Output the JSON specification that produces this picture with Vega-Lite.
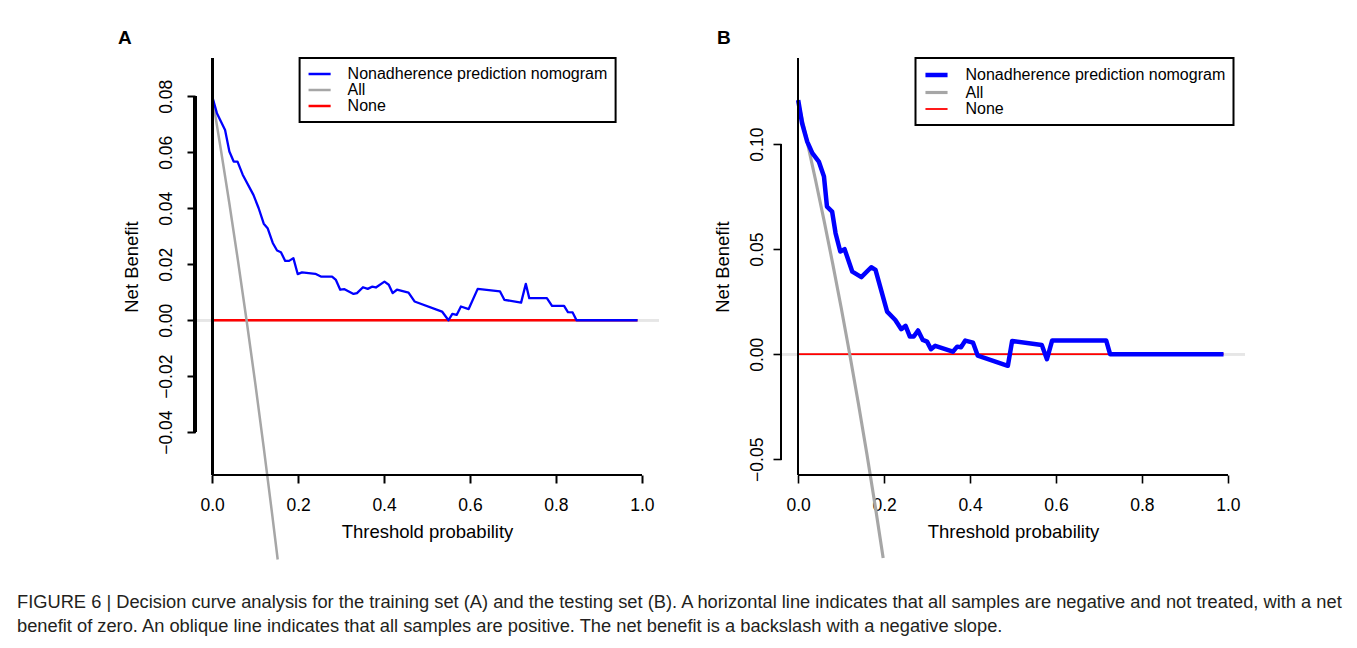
{
  "$schema": "https://vega.github.io/schema/vega-lite/v6.json",
  "background": "white",
  "padding": {"left": 17, "top": 28, "right": 5, "bottom": 5},
  "datasets": {
    "a": [
      {"curve": "Nonadherence prediction nomogram", "t": 0, "nb": 0.080},
      {"curve": "Nonadherence prediction nomogram", "t": 0.011, "nb": 0.074},
      {"curve": "Nonadherence prediction nomogram", "t": 0.030, "nb": 0.068},
      {"curve": "Nonadherence prediction nomogram", "t": 0.040, "nb": 0.0603},
      {"curve": "Nonadherence prediction nomogram", "t": 0.050, "nb": 0.0567},
      {"curve": "Nonadherence prediction nomogram", "t": 0.059, "nb": 0.0567},
      {"curve": "Nonadherence prediction nomogram", "t": 0.071, "nb": 0.052},
      {"curve": "Nonadherence prediction nomogram", "t": 0.096, "nb": 0.0448},
      {"curve": "Nonadherence prediction nomogram", "t": 0.108, "nb": 0.0401},
      {"curve": "Nonadherence prediction nomogram", "t": 0.120, "nb": 0.0345},
      {"curve": "Nonadherence prediction nomogram", "t": 0.129, "nb": 0.0329},
      {"curve": "Nonadherence prediction nomogram", "t": 0.141, "nb": 0.0276},
      {"curve": "Nonadherence prediction nomogram", "t": 0.151, "nb": 0.0249},
      {"curve": "Nonadherence prediction nomogram", "t": 0.160, "nb": 0.0243},
      {"curve": "Nonadherence prediction nomogram", "t": 0.170, "nb": 0.0212},
      {"curve": "Nonadherence prediction nomogram", "t": 0.179, "nb": 0.0212},
      {"curve": "Nonadherence prediction nomogram", "t": 0.189, "nb": 0.0222},
      {"curve": "Nonadherence prediction nomogram", "t": 0.199, "nb": 0.0165},
      {"curve": "Nonadherence prediction nomogram", "t": 0.209, "nb": 0.0171},
      {"curve": "Nonadherence prediction nomogram", "t": 0.240, "nb": 0.0166},
      {"curve": "Nonadherence prediction nomogram", "t": 0.253, "nb": 0.0156},
      {"curve": "Nonadherence prediction nomogram", "t": 0.279, "nb": 0.0156},
      {"curve": "Nonadherence prediction nomogram", "t": 0.288, "nb": 0.0144},
      {"curve": "Nonadherence prediction nomogram", "t": 0.298, "nb": 0.0109},
      {"curve": "Nonadherence prediction nomogram", "t": 0.308, "nb": 0.0111},
      {"curve": "Nonadherence prediction nomogram", "t": 0.329, "nb": 0.0094},
      {"curve": "Nonadherence prediction nomogram", "t": 0.337, "nb": 0.0097},
      {"curve": "Nonadherence prediction nomogram", "t": 0.351, "nb": 0.0118},
      {"curve": "Nonadherence prediction nomogram", "t": 0.362, "nb": 0.0112},
      {"curve": "Nonadherence prediction nomogram", "t": 0.372, "nb": 0.0120},
      {"curve": "Nonadherence prediction nomogram", "t": 0.381, "nb": 0.0117},
      {"curve": "Nonadherence prediction nomogram", "t": 0.401, "nb": 0.0138},
      {"curve": "Nonadherence prediction nomogram", "t": 0.411, "nb": 0.0127},
      {"curve": "Nonadherence prediction nomogram", "t": 0.420, "nb": 0.0097},
      {"curve": "Nonadherence prediction nomogram", "t": 0.430, "nb": 0.0109},
      {"curve": "Nonadherence prediction nomogram", "t": 0.457, "nb": 0.0099},
      {"curve": "Nonadherence prediction nomogram", "t": 0.471, "nb": 0.0067},
      {"curve": "Nonadherence prediction nomogram", "t": 0.535, "nb": 0.0031},
      {"curve": "Nonadherence prediction nomogram", "t": 0.550, "nb": 0.0},
      {"curve": "Nonadherence prediction nomogram", "t": 0.559, "nb": 0.0023},
      {"curve": "Nonadherence prediction nomogram", "t": 0.569, "nb": 0.0019},
      {"curve": "Nonadherence prediction nomogram", "t": 0.579, "nb": 0.0049},
      {"curve": "Nonadherence prediction nomogram", "t": 0.597, "nb": 0.0040},
      {"curve": "Nonadherence prediction nomogram", "t": 0.618, "nb": 0.0112},
      {"curve": "Nonadherence prediction nomogram", "t": 0.670, "nb": 0.0103},
      {"curve": "Nonadherence prediction nomogram", "t": 0.680, "nb": 0.0073},
      {"curve": "Nonadherence prediction nomogram", "t": 0.719, "nb": 0.0063},
      {"curve": "Nonadherence prediction nomogram", "t": 0.730, "nb": 0.0130},
      {"curve": "Nonadherence prediction nomogram", "t": 0.738, "nb": 0.0079},
      {"curve": "Nonadherence prediction nomogram", "t": 0.779, "nb": 0.0079},
      {"curve": "Nonadherence prediction nomogram", "t": 0.791, "nb": 0.0051},
      {"curve": "Nonadherence prediction nomogram", "t": 0.819, "nb": 0.0051},
      {"curve": "Nonadherence prediction nomogram", "t": 0.828, "nb": 0.0029},
      {"curve": "Nonadherence prediction nomogram", "t": 0.839, "nb": 0.0028},
      {"curve": "Nonadherence prediction nomogram", "t": 0.848, "nb": 0.0},
      {"curve": "Nonadherence prediction nomogram", "t": 0.99, "nb": 0.0},
      {"curve": "All", "t": 0, "nb": 0.08},
      {"curve": "All", "t": 0.02, "nb": 0.0612},
      {"curve": "All", "t": 0.04, "nb": 0.0417},
      {"curve": "All", "t": 0.06, "nb": 0.0213},
      {"curve": "All", "t": 0.08, "nb": 0.0},
      {"curve": "All", "t": 0.10, "nb": -0.0222},
      {"curve": "All", "t": 0.12, "nb": -0.0455},
      {"curve": "All", "t": 0.14, "nb": -0.0698},
      {"curve": "All", "t": 0.1525, "nb": -0.0855},
      {"curve": "None", "t": 0, "nb": 0},
      {"curve": "None", "t": 0.99, "nb": 0}
    ],
    "b": [
      {"curve": "Nonadherence prediction nomogram", "t": 0, "nb": 0.121},
      {"curve": "Nonadherence prediction nomogram", "t": 0.009, "nb": 0.110},
      {"curve": "Nonadherence prediction nomogram", "t": 0.021, "nb": 0.1012},
      {"curve": "Nonadherence prediction nomogram", "t": 0.033, "nb": 0.0957},
      {"curve": "Nonadherence prediction nomogram", "t": 0.048, "nb": 0.0917},
      {"curve": "Nonadherence prediction nomogram", "t": 0.060, "nb": 0.0846},
      {"curve": "Nonadherence prediction nomogram", "t": 0.067, "nb": 0.0703},
      {"curve": "Nonadherence prediction nomogram", "t": 0.079, "nb": 0.0679},
      {"curve": "Nonadherence prediction nomogram", "t": 0.087, "nb": 0.0576},
      {"curve": "Nonadherence prediction nomogram", "t": 0.098, "nb": 0.0489},
      {"curve": "Nonadherence prediction nomogram", "t": 0.108, "nb": 0.050},
      {"curve": "Nonadherence prediction nomogram", "t": 0.126, "nb": 0.0393},
      {"curve": "Nonadherence prediction nomogram", "t": 0.147, "nb": 0.0367},
      {"curve": "Nonadherence prediction nomogram", "t": 0.170, "nb": 0.0414},
      {"curve": "Nonadherence prediction nomogram", "t": 0.180, "nb": 0.0401},
      {"curve": "Nonadherence prediction nomogram", "t": 0.207, "nb": 0.0203},
      {"curve": "Nonadherence prediction nomogram", "t": 0.226, "nb": 0.0163},
      {"curve": "Nonadherence prediction nomogram", "t": 0.240, "nb": 0.0119},
      {"curve": "Nonadherence prediction nomogram", "t": 0.250, "nb": 0.0135},
      {"curve": "Nonadherence prediction nomogram", "t": 0.260, "nb": 0.0084},
      {"curve": "Nonadherence prediction nomogram", "t": 0.269, "nb": 0.0084},
      {"curve": "Nonadherence prediction nomogram", "t": 0.279, "nb": 0.0113},
      {"curve": "Nonadherence prediction nomogram", "t": 0.290, "nb": 0.0068},
      {"curve": "Nonadherence prediction nomogram", "t": 0.300, "nb": 0.0060},
      {"curve": "Nonadherence prediction nomogram", "t": 0.309, "nb": 0.0024},
      {"curve": "Nonadherence prediction nomogram", "t": 0.319, "nb": 0.0040},
      {"curve": "Nonadherence prediction nomogram", "t": 0.360, "nb": 0.0012},
      {"curve": "Nonadherence prediction nomogram", "t": 0.370, "nb": 0.0036},
      {"curve": "Nonadherence prediction nomogram", "t": 0.379, "nb": 0.0033},
      {"curve": "Nonadherence prediction nomogram", "t": 0.389, "nb": 0.0065},
      {"curve": "Nonadherence prediction nomogram", "t": 0.407, "nb": 0.0055},
      {"curve": "Nonadherence prediction nomogram", "t": 0.418, "nb": -0.0007},
      {"curve": "Nonadherence prediction nomogram", "t": 0.488, "nb": -0.0055},
      {"curve": "Nonadherence prediction nomogram", "t": 0.498, "nb": 0.0063},
      {"curve": "Nonadherence prediction nomogram", "t": 0.567, "nb": 0.0044},
      {"curve": "Nonadherence prediction nomogram", "t": 0.579, "nb": -0.0024},
      {"curve": "Nonadherence prediction nomogram", "t": 0.591, "nb": 0.0065},
      {"curve": "Nonadherence prediction nomogram", "t": 0.717, "nb": 0.0065},
      {"curve": "Nonadherence prediction nomogram", "t": 0.726, "nb": 0.0},
      {"curve": "Nonadherence prediction nomogram", "t": 0.99, "nb": 0.0},
      {"curve": "All", "t": 0, "nb": 0.12},
      {"curve": "All", "t": 0.02, "nb": 0.1020},
      {"curve": "All", "t": 0.04, "nb": 0.0833},
      {"curve": "All", "t": 0.06, "nb": 0.0638},
      {"curve": "All", "t": 0.08, "nb": 0.0435},
      {"curve": "All", "t": 0.10, "nb": 0.0222},
      {"curve": "All", "t": 0.12, "nb": 0.0},
      {"curve": "All", "t": 0.14, "nb": -0.0233},
      {"curve": "All", "t": 0.16, "nb": -0.0476},
      {"curve": "All", "t": 0.18, "nb": -0.0732},
      {"curve": "All", "t": 0.1978, "nb": -0.097},
      {"curve": "None", "t": 0, "nb": 0},
      {"curve": "None", "t": 0.99, "nb": 0}
    ]
  },
  "title": {
    "text": [
      "FIGURE 6 | Decision curve analysis for the training set (A) and the testing set (B). A horizontal line indicates that all samples are negative and not treated, with a net",
      "benefit of zero. An oblique line indicates that all samples are positive. The net benefit is a backslash with a negative slope."
    ],
    "orient": "bottom",
    "anchor": "start",
    "frame": "bounds",
    "dx": -101,
    "offset": 29,
    "font": "Liberation Sans",
    "fontSize": 18.3,
    "fontWeight": "normal",
    "color": "#231f20",
    "lineHeight": 24
  },
  "config": {
    "font": "Liberation Sans",
    "view": {"stroke": null},
    "axis": {
      "grid": false,
      "domain": false,
      "tickColor": "black",
      "tickWidth": 2,
      "tickSize": 8,
      "labelFont": "Liberation Sans",
      "labelFontSize": 17.5,
      "labelColor": "black",
      "titleFont": "Liberation Sans",
      "titleFontSize": 18.5,
      "titleFontWeight": "normal",
      "titleColor": "black"
    },
    "legend": {
      "title": null,
      "orient": "none",
      "strokeColor": "black",
      "strokeWidth": 2,
      "fillColor": "white",
      "padding": 8,
      "labelFont": "Liberation Sans",
      "labelFontSize": 16,
      "labelColor": "black",
      "labelLimit": 400,
      "labelOffset": 20,
      "symbolType": "M-1.7,0H1.7",
      "symbolSize": 169,
      "symbolOffset": 4,
      "symbolStrokeWidth": 2.5,
      "rowPadding": 0
    }
  },
  "vconcat": [
    {
      "resolve": {
        "scale": {"color": "independent", "strokeWidth": "independent"},
        "legend": {"color": "independent", "strokeWidth": "independent"}
      },
      "hconcat": [
        {
          "width": 464,
          "height": 417,
          "title": {"text": "A", "anchor": "start", "frame": "bounds", "dx": -4, "fontSize": 19, "fontWeight": "bold", "font": "Liberation Sans", "color": "black", "offset": 9.3},
          "data": {"name": "a"},
          "layer": [
            {
              "mark": {"type": "rule", "color": "#e6e6e6", "strokeWidth": 2},
              "encoding": {
                "x": {"datum": -0.04, "type": "quantitative", "scale": {"domain": [-0.04, 1.04], "nice": false, "zero": false}},
                "x2": {"datum": 1.04},
                "y": {"datum": 0, "type": "quantitative", "scale": {"domain": [-0.0553, 0.0937], "nice": false, "zero": false}}
              }
            },
            {
              "transform": [{"filter": "datum.curve === 'None'"}],
              "mark": {"type": "line", "strokeWidth": 2.5},
              "encoding": {
                "x": {"field": "t", "type": "quantitative", "scale": {"domain": [-0.04, 1.04], "nice": false, "zero": false},
                  "axis": {"title": "Threshold probability", "values": [0, 0.2, 0.4, 0.6, 0.8, 1.0], "format": ".1f", "labelPadding": 13, "titlePadding": 9}},
                "y": {"field": "nb", "type": "quantitative", "scale": {"domain": [-0.0553, 0.0937], "nice": false, "zero": false},
                  "axis": {"title": "Net Benefit", "values": [-0.04, -0.02, 0, 0.02, 0.04, 0.06, 0.08], "format": ".2f", "labelAngle": -90, "labelAlign": "center", "labelBaseline": "bottom", "labelPadding": 12, "titlePadding": 16}},
                "color": {"field": "curve", "type": "nominal",
                  "scale": {"domain": ["Nonadherence prediction nomogram", "All", "None"], "range": ["#0000ff", "#a6a6a6", "#ff0000"]},
                  "legend": {"legendX": 104.6, "legendY": 0}}
              }
            },
            {
              "transform": [{"filter": "datum.curve === 'All'"}],
              "mark": {"type": "line", "strokeWidth": 2.5},
              "encoding": {
                "x": {"field": "t", "type": "quantitative", "scale": {"domain": [-0.04, 1.04], "nice": false, "zero": false}, "title": "Threshold probability"},
                "y": {"field": "nb", "type": "quantitative", "scale": {"domain": [-0.0553, 0.0937], "nice": false, "zero": false}, "title": "Net Benefit"},
                "color": {"field": "curve", "type": "nominal"}
              }
            },
            {
              "transform": [{"filter": "datum.curve === 'Nonadherence prediction nomogram'"}],
              "mark": {"type": "line", "strokeWidth": 2.3, "strokeJoin": "round"},
              "encoding": {
                "x": {"field": "t", "type": "quantitative", "scale": {"domain": [-0.04, 1.04], "nice": false, "zero": false}, "title": "Threshold probability"},
                "y": {"field": "nb", "type": "quantitative", "scale": {"domain": [-0.0553, 0.0937], "nice": false, "zero": false}, "title": "Net Benefit"},
                "color": {"field": "curve", "type": "nominal"}
              }
            },
            {
              "mark": {"type": "rule", "color": "black", "strokeWidth": 2.2},
              "encoding": {"x": {"datum": 0}, "x2": {"datum": 1}, "y": {"datum": -0.0553}}
            },
            {
              "mark": {"type": "rule", "color": "black", "strokeWidth": 2.2},
              "encoding": {"x": {"datum": -0.04}, "y": {"datum": -0.04}, "y2": {"datum": 0.08}}
            },
            {
              "mark": {"type": "rule", "color": "black", "strokeWidth": 2.2},
              "encoding": {"x": {"datum": 0}, "y": {"datum": -0.0553}, "y2": {"datum": 0.0937}}
            }
          ]
        },
        {
          "width": 464,
          "height": 417,
          "title": {"text": "B", "anchor": "start", "frame": "bounds", "dx": 4, "fontSize": 19, "fontWeight": "bold", "font": "Liberation Sans", "color": "black", "offset": 9.3},
          "data": {"name": "b"},
          "layer": [
            {
              "mark": {"type": "rule", "color": "#e6e6e6", "strokeWidth": 2},
              "encoding": {
                "x": {"datum": -0.04, "type": "quantitative", "scale": {"domain": [-0.04, 1.04], "nice": false, "zero": false}},
                "x2": {"datum": 1.04},
                "y": {"datum": 0, "type": "quantitative", "scale": {"domain": [-0.0575, 0.141], "nice": false, "zero": false}}
              }
            },
            {
              "transform": [{"filter": "datum.curve === 'None'"}],
              "mark": {"type": "line"},
              "encoding": {
                "x": {"field": "t", "type": "quantitative", "scale": {"domain": [-0.04, 1.04], "nice": false, "zero": false},
                  "axis": {"title": "Threshold probability", "values": [0, 0.2, 0.4, 0.6, 0.8, 1.0], "format": ".1f", "labelPadding": 13, "titlePadding": 9, "tickWidth": 1.6}},
                "y": {"field": "nb", "type": "quantitative", "scale": {"domain": [-0.0575, 0.141], "nice": false, "zero": false},
                  "axis": {"title": "Net Benefit", "values": [-0.05, 0, 0.05, 0.1], "format": ".2f", "labelAngle": -90, "labelAlign": "center", "labelBaseline": "bottom", "labelPadding": 7, "titlePadding": 16, "tickWidth": 1.6}},
                "color": {"field": "curve", "type": "nominal",
                  "scale": {"domain": ["Nonadherence prediction nomogram", "All", "None"], "range": ["#0000ff", "#a6a6a6", "#ff0000"]},
                  "legend": {"legendX": 134.5, "legendY": 0}},
                "strokeWidth": {"field": "curve", "type": "nominal",
                  "scale": {"domain": ["Nonadherence prediction nomogram", "All", "None"], "range": [4.5, 1.8, 2.2]},
                  "legend": {"legendX": 134.5, "legendY": 0}}
              }
            },
            {
              "transform": [{"filter": "datum.curve === 'All'"}],
              "mark": {"type": "line"},
              "encoding": {
                "x": {"field": "t", "type": "quantitative", "scale": {"domain": [-0.04, 1.04], "nice": false, "zero": false}, "title": "Threshold probability"},
                "y": {"field": "nb", "type": "quantitative", "scale": {"domain": [-0.0575, 0.141], "nice": false, "zero": false}, "title": "Net Benefit"},
                "color": {"field": "curve", "type": "nominal"},
                "strokeWidth": {"field": "curve", "type": "nominal"}
              }
            },
            {
              "transform": [{"filter": "datum.curve === 'Nonadherence prediction nomogram'"}],
              "mark": {"type": "line", "strokeJoin": "round"},
              "encoding": {
                "x": {"field": "t", "type": "quantitative", "scale": {"domain": [-0.04, 1.04], "nice": false, "zero": false}, "title": "Threshold probability"},
                "y": {"field": "nb", "type": "quantitative", "scale": {"domain": [-0.0575, 0.141], "nice": false, "zero": false}, "title": "Net Benefit"},
                "color": {"field": "curve", "type": "nominal"},
                "strokeWidth": {"field": "curve", "type": "nominal"}
              }
            },
            {
              "mark": {"type": "rule", "color": "black", "strokeWidth": 1.7},
              "encoding": {"x": {"datum": 0}, "x2": {"datum": 1}, "y": {"datum": -0.0575}}
            },
            {
              "mark": {"type": "rule", "color": "black", "strokeWidth": 1.7},
              "encoding": {"x": {"datum": -0.04}, "y": {"datum": -0.05}, "y2": {"datum": 0.1}}
            },
            {
              "mark": {"type": "rule", "color": "black", "strokeWidth": 1.5},
              "encoding": {"x": {"datum": 0}, "y": {"datum": -0.0575}, "y2": {"datum": 0.141}}
            }
          ]
        }
      ],
      "spacing": 53
    }
  ]
}
